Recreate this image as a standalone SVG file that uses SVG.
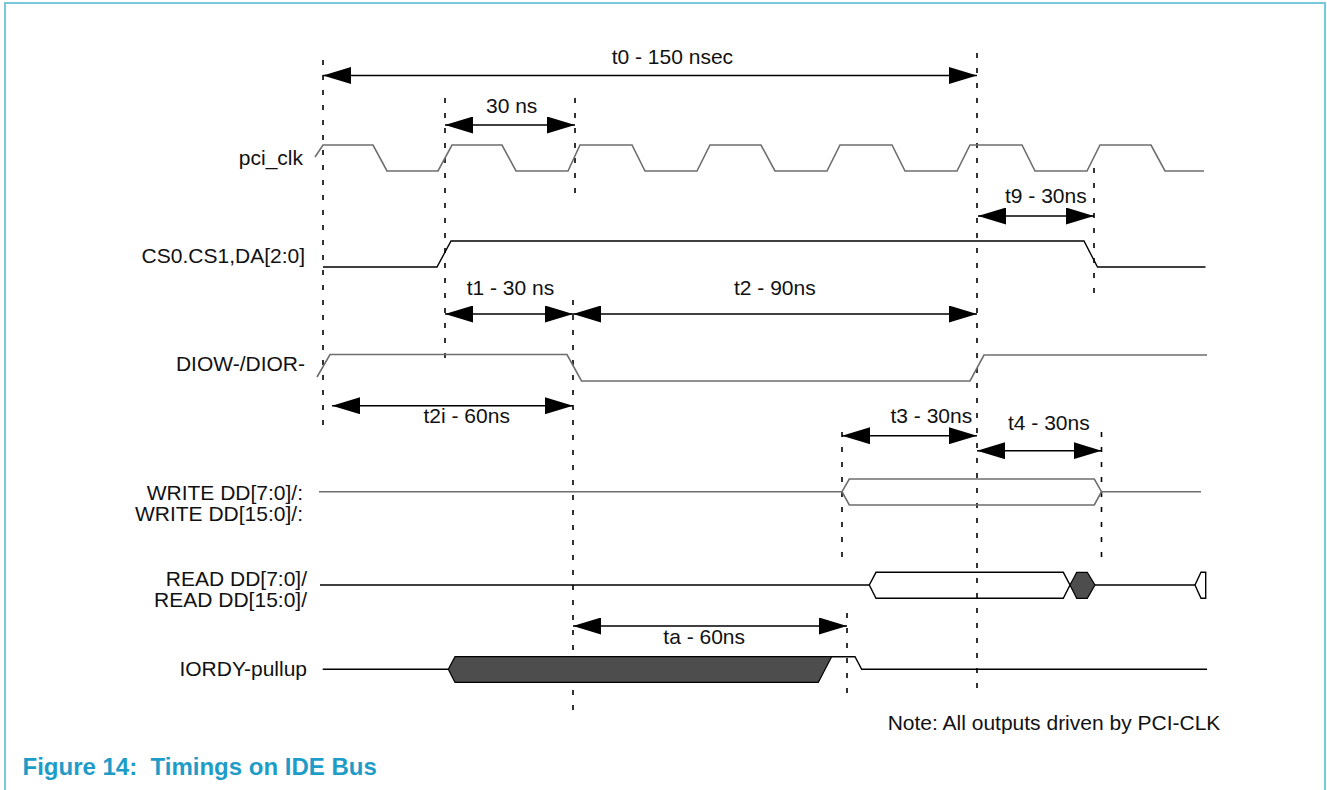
<svg xmlns="http://www.w3.org/2000/svg" width="1327" height="790" viewBox="0 0 1327 790">
<style>
text{font-family:"Liberation Sans",Arial,sans-serif;font-size:21px;fill:#111}
.lbl{text-anchor:end}
.cap{font-weight:bold;font-size:24px;fill:#1e9cc8;white-space:pre}
.w{fill:none;stroke:#000;stroke-width:1.4}
.g{fill:none;stroke:#6e6e6e;stroke-width:1.6}
.d{fill:none;stroke:#000;stroke-width:1.6;stroke-dasharray:5 10}
.a{fill:none;stroke:#000;stroke-width:1.6;marker-start:url(#ah);marker-end:url(#ah)}
.dark{fill:#4d4d4d;stroke:#000;stroke-width:1.2}
</style>
<defs>
<marker id="ah" markerUnits="userSpaceOnUse" markerWidth="28" markerHeight="17" refX="28" refY="8.5" orient="auto-start-reverse">
<path d="M0,0 L28,8.5 L0,17 Z" fill="#000"/>
</marker>
</defs>
<rect width="1327" height="790" fill="#fff"/>
<path d="M5,790 L5,3 L1325,3 L1325,790" fill="none" stroke="#78c8dc" stroke-width="2"/>

<g id="guides">
<line class="d" x1="323" y1="60" x2="323" y2="432"/>
<line class="d" x1="445" y1="98" x2="445" y2="358"/>
<line class="d" x1="575" y1="98" x2="575" y2="196"/>
<line class="d" x1="573" y1="300" x2="573" y2="713"/>
<line class="d" x1="977" y1="53" x2="977" y2="697"/>
<line class="d" x1="1094" y1="168" x2="1094" y2="300"/>
<line class="d" x1="842" y1="432" x2="842" y2="563"/>
<line class="d" x1="1101.5" y1="432" x2="1101.5" y2="563"/>
<line class="d" x1="847" y1="613" x2="847" y2="698"/>
</g>

<g id="pci_clk">
<text class="lbl" x="303" y="165">pci_clk</text>
<path class="g" d="M315,157 L323,145 L373,145 L387,171 L438,171 L452,145 L502,145 L516,171 L568,171 L580,145 L632,145 L645,171 L697,171 L710,145 L761,145 L775,171 L827,171 L840,145 L892,145 L905,171 L957,171 L970,145 L1022,145 L1035,171 L1087,171 L1100,145 L1151,145 L1165,171 L1204,171"/>
</g>

<g id="cs">
<text class="lbl" x="305" y="263">CS0.CS1,DA[2:0]</text>
<path class="w" d="M323,267 L437,267 L451,241 L1084,241 L1097.5,267 L1205.5,267"/>
</g>

<g id="diow">
<text class="lbl" x="305" y="371">DIOW-/DIOR-</text>
<path class="g" d="M317,377 L330,354.5 L567,354.5 L581.5,381 L970,381 L984,355 L1207,355"/>
</g>

<g id="write">
<text class="lbl" x="303" y="500">WRITE DD[7:0]/:</text>
<text class="lbl" x="303" y="521">WRITE DD[15:0]/:</text>
<path class="g" d="M319,491.7 L842,491.7 M1101.5,491.7 L1201,491.7"/>
<path class="g" d="M842,491.7 L849.3,479 L1094.3,479 L1101.5,491.7 L1094.3,505 L849.3,505 Z" fill="#fff"/>
</g>

<g id="read">
<text class="lbl" x="307" y="586">READ DD[7:0]/</text>
<text class="lbl" x="307" y="607">READ DD[15:0]/</text>
<path class="w" d="M320,585 L869.3,585 M1095,585 L1195,585"/>
<path class="w" d="M869.3,585 L876,572.3 L1063.3,572.3 L1070,585 L1063.3,598.3 L876,598.3 Z" fill="#fff"/>
<path class="dark" d="M1070,585 L1076.7,572.3 L1087.3,572.3 L1095,585 L1087.3,598.3 L1076.7,598.3 Z"/>
<path class="w" d="M1205.7,572.3 L1201,572.3 L1195,585 L1201,598.3 L1205.7,598.3 Z" fill="#fff"/>
</g>

<g id="iordy">
<text class="lbl" x="307" y="676">IORDY-pullup</text>
<path class="w" d="M322.7,669.3 L448.3,669.3"/>
<path class="dark" d="M448.3,669.3 L455,656.7 L831.7,656.7 L818.3,682.3 L455,682.3 Z"/>
<path class="w" d="M831.7,656.7 L855,656.7 L861.7,669.3 L1207,669.3"/>
</g>

<g id="connectors">
<line class="a" x1="323" y1="75.5" x2="977" y2="75.5"/>
<line class="a" x1="445" y1="125" x2="575" y2="125"/>
<line class="a" x1="978" y1="216" x2="1094" y2="216"/>
<line class="a" x1="445" y1="314" x2="573" y2="314"/>
<line class="a" x1="573" y1="314" x2="977" y2="314"/>
<line class="a" x1="332" y1="405.7" x2="573" y2="405.7"/>
<line class="a" x1="842" y1="435.7" x2="977" y2="435.7"/>
<line class="a" x1="977" y1="450.7" x2="1101.5" y2="450.7"/>
<line class="a" x1="573" y1="626" x2="847" y2="626"/>
</g>

<g id="timing-labels">
<text x="611.7" y="64">t0 - 150 nsec</text>
<text x="486" y="112.7">30 ns</text>
<text x="1005" y="202.7">t9 - 30ns</text>
<text x="466.7" y="295">t1 - 30 ns</text>
<text x="734" y="295">t2 - 90ns</text>
<text x="423.5" y="422.7">t2i - 60ns</text>
<text x="890.5" y="423.3">t3 - 30ns</text>
<text x="1008" y="430">t4 - 30ns</text>
<text x="663.3" y="644.3">ta - 60ns</text>
<text x="887.7" y="730">Note: All outputs driven by PCI-CLK</text>
</g>

<text class="cap" x="22.5" y="775" xml:space="preserve">Figure 14:  Timings on IDE Bus</text>
</svg>
